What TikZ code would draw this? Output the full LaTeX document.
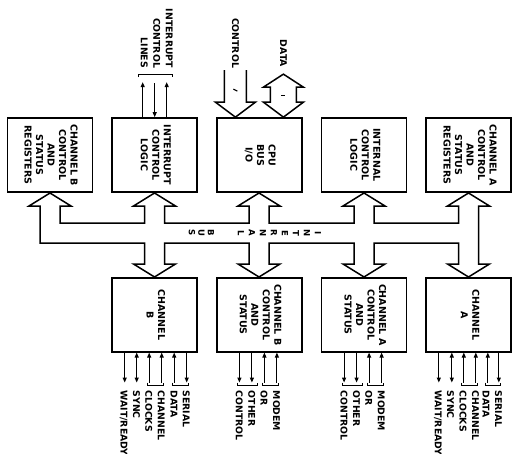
\documentclass[tikz,border=0pt]{standalone}
\usepackage{fontspec}
\usepackage{graphicx}
\usetikzlibrary{arrows.meta, positioning, calc}
\newfontfamily\sioFont{DejaVu Sans}
\newcommand{\vtext}[2][c]{\rotatebox{-90}{\begin{tabular}{@{}#1@{}}#2\end{tabular}}}
\tikzset{
    base/.style = {font=\sioFont\bfseries\fontsize{9.5}{11.5}\selectfont, inner sep=0pt},
    % Blocks
    block/.style = {base, draw=black, line width=1.7pt, minimum width=85pt, minimum height=74pt},
    tag/.style   = {inner sep=0pt, rotate=-90, align=left, font=\sioFont\bfseries\fontsize{9.3}{12.4}\selectfont},
    busletter/.style = {inner sep=0pt, rotate=-90, font=\sioFont\bfseries\fontsize{8.5}{10}\selectfont},
    % Lines
    sig/.style   = {line width=1.1pt, >={Triangle[length=5pt, width=4pt]}},
    brace/.style = {line width=1.1pt},
    bus/.style   = {line width=1.5pt, line join=miter}
}
\begin{document}
\begin{tikzpicture}[x=1pt, y=-1pt, node distance=84pt and 18pt]
    \useasboundingbox (0,0) rectangle (521,454);

    % upper row
    \node (regB) [block] at (50,155) {\vtext{CHANNEL B\\CONTROL\\AND\\STATUS\\REGISTERS}};
    \node (intLogic) [block, right=of regB] {\vtext{INTERRUPT\\CONTROL\\LOGIC}};
    \node (cpuBus) [block, right=of intLogic] {\vtext{CPU\\BUS\\I/O}};
    \node (intCtl) [block, right=of cpuBus] {\vtext{INTERNAL\\CONTROL\\LOGIC}};
    \node (regA) [block, right=of intCtl] {\vtext{CHANNEL A\\CONTROL\\AND\\STATUS\\REGISTERS}};

    % lower row
    \node (chB) [block, below=of intLogic] {\vtext{CHANNEL\\B}};
    \node (chBctl) [block, below=of cpuBus] {\vtext{CHANNEL B\\CONTROL\\AND\\STATUS}};
    \node (chActl) [block, below=of intCtl] {\vtext{CHANNEL A\\CONTROL\\AND\\STATUS}};
    \node (chA) [block, below=of regA] {\vtext{CHANNEL\\A}};

    % internal bus
    \draw [bus] (40,243) -- (40,206) -- (29,206) -- (50,193) -- (71,206) -- (60,206) -- (60,223)
        -- (144.5,223) -- (144.5,206) -- (133.5,206) -- (154.5,193) -- (175.5,206) -- (164.5,206) -- (164.5,223)
        -- (249,223) -- (249,206) -- (238,206) -- (259,193) -- (280,206) -- (269,206) -- (269,223)
        -- (354,223) -- (354,206) -- (343,206) -- (364,193) -- (385,206) -- (374,206) -- (374,223)
        -- (458.5,223) -- (458.5,206) -- (447.5,206) -- (468.5,193) -- (489.5,206) -- (478.5,206)
        -- (478.5,264) -- (489.5,264) -- (468.5,277) -- (447.5,264) -- (458.5,264) -- (458.5,243)
        -- (374,243) -- (374,264) -- (385,264) -- (364,277) -- (343,264) -- (354,264) -- (354,243)
        -- (269,243) -- (269,264) -- (280,264) -- (259,277) -- (238,264) -- (249,264) -- (249,243)
        -- (164.5,243) -- (164.5,264) -- (175.5,264) -- (154.5,277) -- (133.5,264) -- (144.5,264) -- (144.5,243)
        -- cycle;
    \foreach \x/\ch [count=\i] in {318/I, 307/N, 296/T, 285/E, 274/R, 263/N, 252/A, 241/L, 211/B, 201.5/U, 192/S}
        \node (busTag\i) [busletter] at (\x,233) {\ch};

    % interrupt lines
    \draw [sig, ->] ([xshift=-12pt]intLogic.north) -- ++(0,-35);
    \draw [sig, <-] (intLogic.north) -- ++(0,-34);
    \draw [sig, ->] ([xshift=12pt]intLogic.north) -- ++(0,-35);
    \draw [brace] ($(intLogic.north)+(-16.5,-40)$) |- ($(intLogic.north)+(17.5,-43)$) -- ++(0,3);
    \node (intTag) [tag, align=right, anchor=east] at ($(intLogic.north)+(2,-49)$) {INTERRUPT\\CONTROL\\LINES};

    % cpu side
    \draw [bus, shift={(cpuBus.north)}] (-35,-47) -- (-35,-15) -- (-44,-15) -- (-24,0) -- (-4,-15) -- (-13,-15) -- (-13,-47);
    \draw [bus, shift={(cpuBus.north)}] (11,-30) -- (11,-15) -- (4,-15) -- (24,0) -- (44,-15) -- (37,-15)
        -- (37,-30) -- (44,-30) -- (24,-43) -- (4,-30) -- cycle;
    \draw [brace, shift={(cpuBus.north)}] (-26,-28) -- (-22,-26);
    \draw [brace, shift={(cpuBus.north)}] (22,-22) -- (26,-22);
    \node (ctlTag) [tag, anchor=east] at ($(cpuBus.north)+(-24,-49)$) {CONTROL};
    \node (dataTag) [tag, anchor=east] at ($(cpuBus.north)+(24,-50)$) {DATA};

    % channel B lines
    \draw [sig, ->] ([xshift=-30pt]chB.south) -- ++(0,30);
    \draw [sig, <->] ([xshift=-18pt]chB.south) -- ++(0,30);
    \draw [sig, <-] ([xshift=-5.5pt]chB.south) -- ++(0,30);
    \draw [sig, <-] ([xshift=7pt]chB.south) -- ++(0,30);
    \draw [sig, <-] ([xshift=19.5pt]chB.south) -- ++(0,30);
    \draw [sig, ->] ([xshift=32pt]chB.south) -- ++(0,30);
    \draw [brace] ($(chB.south)+(-7.5,30)$) |- ($(chB.south)+(9,33)$) -- ++(0,-3);
    \draw [brace] ($(chB.south)+(17.5,30)$) |- ($(chB.south)+(34,33)$) -- ++(0,-3);
    \node (chBdata) [tag, anchor=north west] at ($(chB.south)+(35.3,38)$) {SERIAL\\DATA};
    \node (chBclk) [tag, anchor=north west] at ($(chB.south)+(10.3,38)$) {CHANNEL\\CLOCKS\\SYNC\\WAIT/READY};

    % channel B modem lines
    \draw [sig, ->] ([xshift=-20pt]chBctl.south) -- ++(0,30);
    \draw [sig, ->] ([xshift=-7.5pt]chBctl.south) -- ++(0,30);
    \draw [sig, <-] ([xshift=5pt]chBctl.south) -- ++(0,30);
    \draw [sig, <-] ([xshift=17.5pt]chBctl.south) -- ++(0,30);
    \draw [brace] ($(chBctl.south)+(-22,30)$) |- ($(chBctl.south)+(-2,33)$) -- ++(0,-3);
    \draw [brace] ($(chBctl.south)+(3,30)$) |- ($(chBctl.south)+(19.5,33)$) -- ++(0,-3);
    \node (chBmodem) [tag, anchor=north west] at ($(chBctl.south)+(20.8,38)$) {MODEM\\OR\\OTHER\\CONTROL};

    % channel A modem lines
    \draw [sig, ->] ([xshift=-20pt]chActl.south) -- ++(0,30);
    \draw [sig, ->] ([xshift=-7.5pt]chActl.south) -- ++(0,30);
    \draw [sig, <-] ([xshift=5pt]chActl.south) -- ++(0,30);
    \draw [sig, <-] ([xshift=17.5pt]chActl.south) -- ++(0,30);
    \draw [brace] ($(chActl.south)+(-22,30)$) |- ($(chActl.south)+(-2,33)$) -- ++(0,-3);
    \draw [brace] ($(chActl.south)+(3,30)$) |- ($(chActl.south)+(19.5,33)$) -- ++(0,-3);
    \node (chAmodem) [tag, anchor=north west] at ($(chActl.south)+(20.8,38)$) {MODEM\\OR\\OTHER\\CONTROL};

    % channel A lines
    \draw [sig, ->] ([xshift=-30pt]chA.south) -- ++(0,30);
    \draw [sig, <->] ([xshift=-17pt]chA.south) -- ++(0,30);
    \draw [sig, <-] ([xshift=-5pt]chA.south) -- ++(0,30);
    \draw [sig, <-] ([xshift=7pt]chA.south) -- ++(0,30);
    \draw [sig, <-] ([xshift=19pt]chA.south) -- ++(0,30);
    \draw [sig, ->] ([xshift=30pt]chA.south) -- ++(0,30);
    \draw [brace] ($(chA.south)+(-7,30)$) |- ($(chA.south)+(9,33)$) -- ++(0,-3);
    \draw [brace] ($(chA.south)+(17,30)$) |- ($(chA.south)+(32,33)$) -- ++(0,-3);
    \node (chAdata) [tag, anchor=north west] at ($(chA.south)+(33.3,38)$) {SERIAL\\DATA};
    \node (chAclk) [tag, anchor=north west] at ($(chA.south)+(10.3,38)$) {CHANNEL\\CLOCKS\\SYNC\\WAIT/READY};
\end{tikzpicture}
\end{document}
